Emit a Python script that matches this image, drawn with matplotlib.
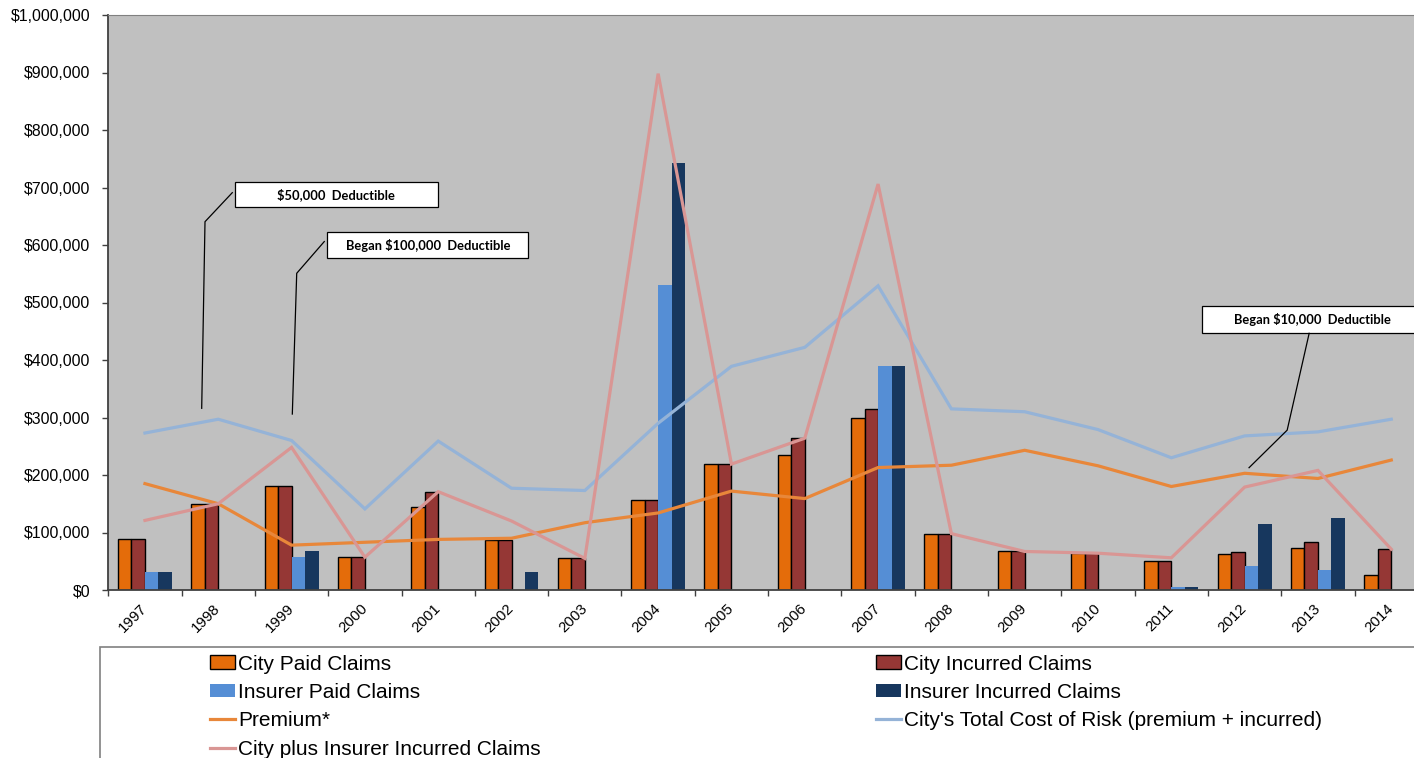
import matplotlib
matplotlib.use('Agg')
import matplotlib.pyplot as plt
from matplotlib.patches import Rectangle, Patch
from matplotlib.lines import Line2D
from matplotlib.ticker import FuncFormatter, FixedLocator
import numpy as np

plt.rcParams['font.family'] = ['Liberation Sans', 'DejaVu Sans']

# ---------------- data (values in $) ----------------
years = ['1997', '1998', '1999', '2000', '2001', '2002', '2003', '2004', '2005',
         '2006', '2007', '2008', '2009', '2010', '2011', '2012', '2013', '2014']
city_paid = [88000, 150000, 181000, 57000, 144000, 87000, 55000, 156000, 219000,
             234000, 299000, 98000, 67000, 64000, 50000, 63000, 73000, 26000]
city_incurred = [88000, 150000, 181000, 57000, 171000, 87000, 55000, 156000, 219000,
                 264000, 315000, 98000, 67000, 64000, 50000, 66000, 83000, 71000]
insurer_paid = [32000, 0, 58000, 0, 0, 0, 0, 530000, 0,
                0, 390000, 0, 0, 0, 5000, 42000, 35000, 0]
insurer_incurred = [32000, 0, 67000, 0, 0, 32000, 0, 742000, 0,
                    0, 390000, 0, 0, 0, 5000, 114000, 125000, 0]
premium = [185000, 150000, 78000, 83000, 88000, 90000, 117000, 134000, 172000,
           159000, 213000, 217000, 243000, 216000, 180000, 203000, 194000, 226000]
total_cost = [273000, 297000, 260000, 141000, 259000, 177000, 173000, 290000, 389000,
              422000, 529000, 315000, 310000, 279000, 230000, 268000, 275000, 297000]
city_plus_insurer = [121000, 150000, 248000, 57000, 171000, 120000, 55000, 898000, 219000,
                     264000, 706000, 98000, 67000, 64000, 56000, 179000, 208000, 71000]

bar_labels = ['City Paid Claims', 'City Incurred Claims',
              'Insurer Paid Claims', 'Insurer Incurred Claims']
line_labels = ['Premium*', "City's Total Cost of Risk (premium + incurred)",
               'City plus Insurer Incurred Claims']
annotations = ['$50,000  Deductible', 'Began $100,000  Deductible',
               'Began $10,000  Deductible']

# ---------------- styles ----------------
bar_colors = ['#E46C0A', '#953735', '#558ED5', '#17375E']
bar_edges = ['black', 'black', 'none', 'none']
line_colors = ['#E8873A', '#95B3D7', '#D99694']

W, H = 1414, 758
fig = plt.figure(figsize=(W / 100, H / 100), dpi=100)
fig.patch.set_facecolor('white')


def fx(px):
    return px / W


def fy(py):
    return 1 - py / H


ax = fig.add_axes([fx(108.3), fy(590), fx(1414) - fx(108.3), fy(15) - fy(590)])
ax.set_facecolor('#C0C0C0')

x = np.arange(len(years))
bw = 0.184
series = [city_paid, city_incurred, insurer_paid, insurer_incurred]
bar_handles = []
for k, (vals, col, ec, lab) in enumerate(zip(series, bar_colors, bar_edges, bar_labels)):
    off = (k - 1.5) * bw
    ax.bar(x + off, vals, width=bw, color=col, edgecolor=ec,
           linewidth=1.0 if ec != 'none' else 0, zorder=2, label=lab)
    bar_handles.append(Patch(facecolor=col, edgecolor=ec,
                             linewidth=1.0 if ec != 'none' else 0))

line_handles = []
for vals, col, lab in zip([premium, total_cost, city_plus_insurer], line_colors, line_labels):
    ax.plot(x, vals, color=col, linewidth=2.3, zorder=3, solid_joinstyle='miter')
    line_handles.append(Line2D([0], [0], color=col, linewidth=2.3))

ax.set_xlim(-0.5, 17.31)
ax.set_ylim(0, 1000000)
ax.yaxis.set_major_locator(FixedLocator(np.arange(0, 1000001, 100000)))
ax.yaxis.set_major_formatter(FuncFormatter(lambda v, p: '${:,.0f}'.format(v)))
ax.tick_params(axis='y', direction='out', length=4, width=1, color='#404040',
               labelsize=11.4, pad=9, labelcolor='black')

ax.xaxis.set_major_locator(FixedLocator(np.arange(-0.5, 18, 1.0)))
ax.xaxis.set_major_formatter(FuncFormatter(lambda v, p: ''))
ax.set_xticks(x, minor=True)
ax.set_xticklabels(years, minor=True, rotation=45, ha='right', va='center',
                   rotation_mode='anchor', fontsize=10.8)
ax.tick_params(axis='x', which='major', direction='out', length=4, width=1, color='#404040')
ax.tick_params(axis='x', which='minor', length=0, pad=12)

for s in ['left', 'bottom']:
    ax.spines[s].set_color('#404040')
    ax.spines[s].set_linewidth(1.3)
ax.spines['top'].set_color('#808080')
ax.spines['top'].set_linewidth(0.8)
ax.spines['right'].set_visible(False)

# ---------------- annotation boxes (data coords) ----------------
boxes = [
    # (x0, x1, y_bottom, y_top, text_x, leader points)
    (1.228, 3.993, 666600, 710000, 2.61, [(1.191, 691000), (0.819, 640500), (0.774, 316000)]),
    (2.487, 5.229, 576900, 622000, 3.858, [(2.446, 606000), (2.07, 550800), (2.01, 306000)]),
    (14.42, 19.40, 446400, 494000, 15.92, [(15.88, 446400), (15.58, 278000), (15.06, 212700)]),
]
for (x0, x1, y0, y1, tx, pts), txt in zip(boxes, annotations):
    ax.add_patch(Rectangle((x0, y0), x1 - x0, y1 - y0, facecolor='white',
                           edgecolor='black', linewidth=0.9, zorder=5, clip_on=False))
    ax.text(tx, (y0 + y1) / 2, txt, ha='center', va='center', fontsize=9.3,
            fontweight='bold', family=['Lato', 'DejaVu Sans'], zorder=6)
    px, py = zip(*pts)
    ax.plot(px, py, color='black', linewidth=0.9, zorder=5, clip_on=False)

# ---------------- legend ----------------
fig.patches.append(Rectangle((fx(100), fy(800)), fx(1500) - fx(100), fy(647) - fy(800),
                             transform=fig.transFigure, facecolor='white',
                             edgecolor='#808080', linewidth=1.2, zorder=0))

col1_h = [bar_handles[0], bar_handles[2], line_handles[0], line_handles[2]]
col1_l = [bar_labels[0], bar_labels[2], line_labels[0], line_labels[2]]
col2_h = [bar_handles[1], bar_handles[3], line_handles[1]]
col2_l = [bar_labels[1], bar_labels[3], line_labels[1]]

for hs, ls, xl in [(col1_h, col1_l, 210), (col2_h, col2_l, 876)]:
    fig.legend(hs, ls, loc='upper left', bbox_to_anchor=(fx(xl), fy(654.5)),
               frameon=False, fontsize=15, handlelength=1.2, handleheight=0.63,
               handletextpad=0.15, labelspacing=0.455, borderpad=0, borderaxespad=0)

fig.savefig('out.png', dpi=100)
